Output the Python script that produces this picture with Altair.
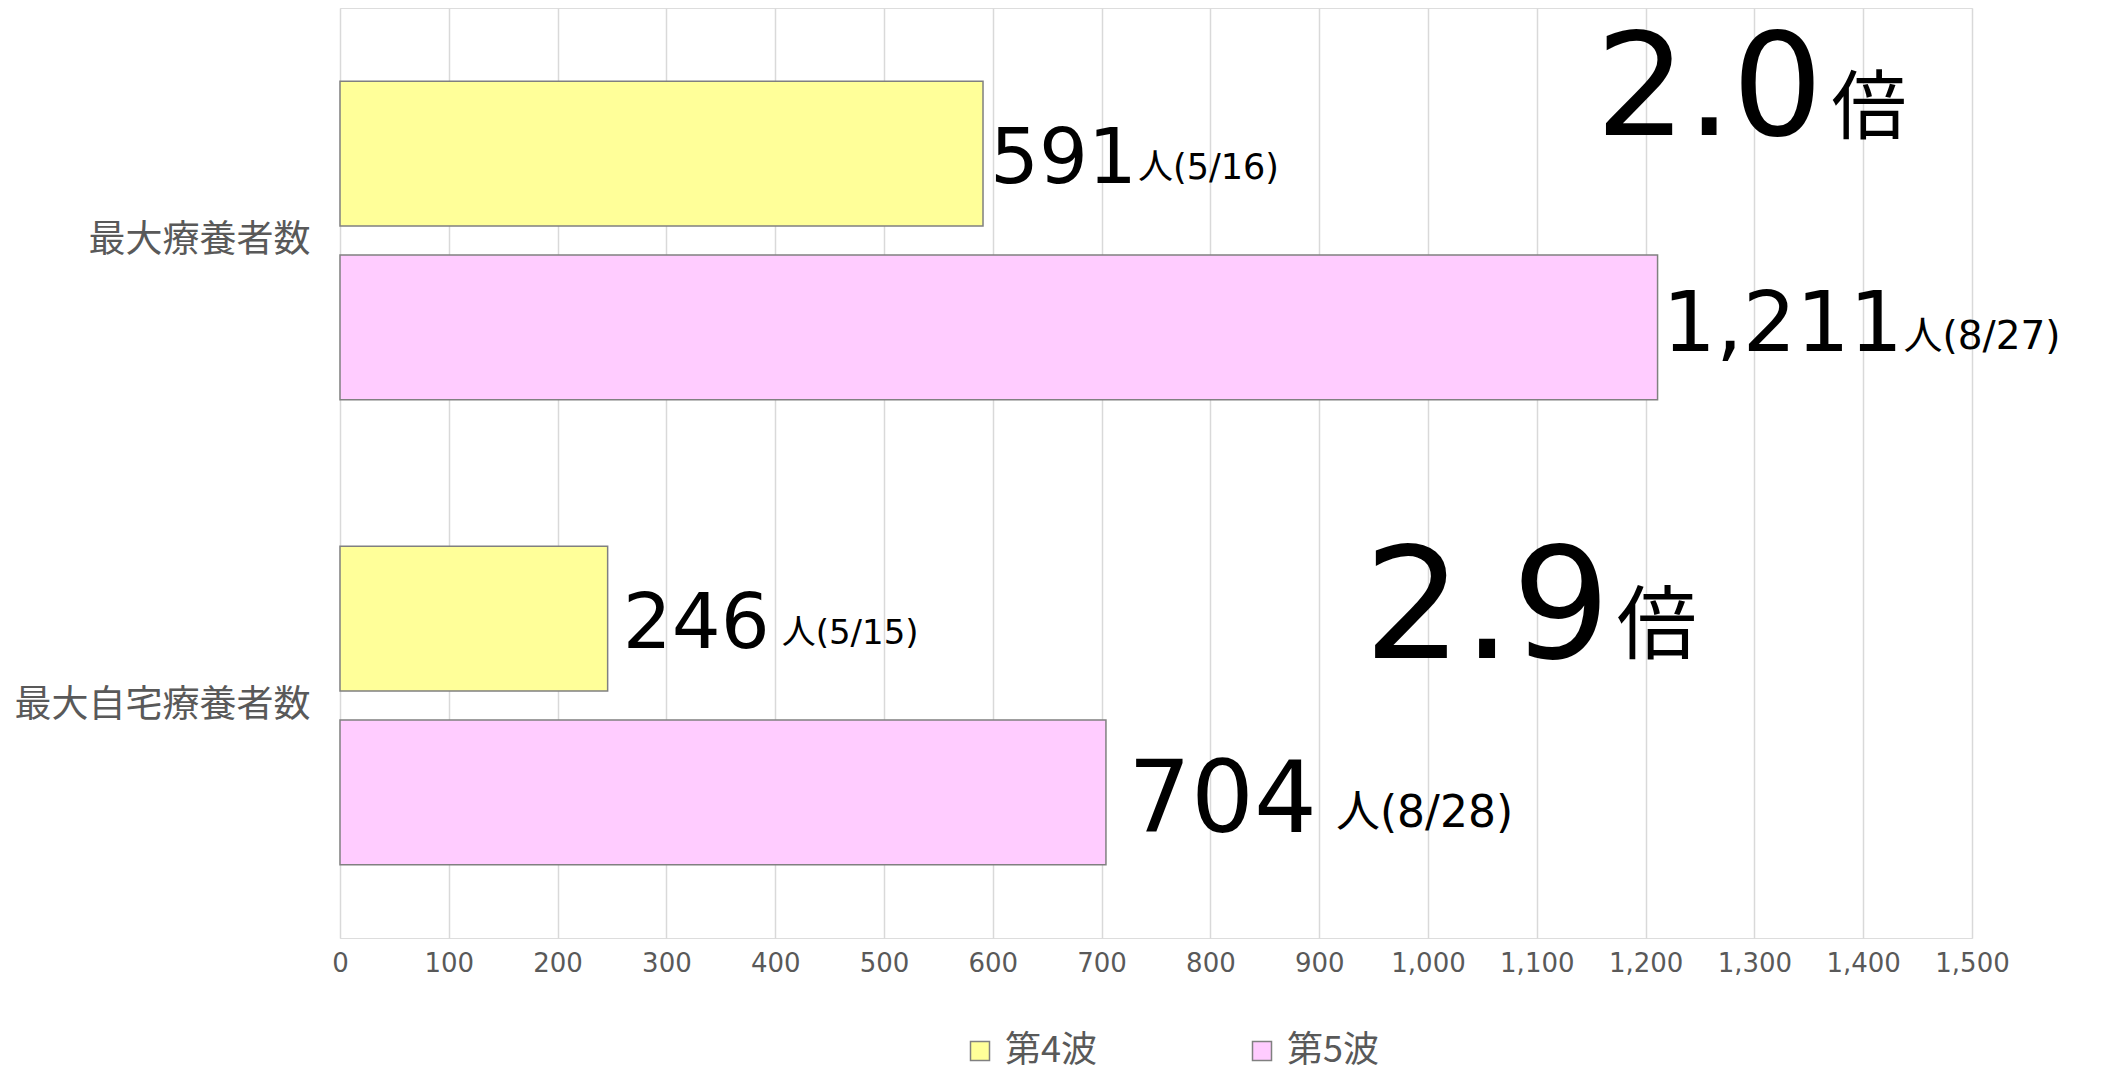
import altair as alt
import pandas as pd

# ---------------- data ----------------
categories = ["最大療養者数", "最大自宅療養者数"]
series = ["第4波", "第5波"]
wave4_values = [591, 246]
wave5_values = [1211, 704]
wave4_dates = ["5/16", "5/15"]
wave5_dates = ["8/27", "8/28"]
ratio_labels = ["2.0", "2.9"]
ratio_unit = "倍"
person_unit = "人"
x_ticks = list(range(0, 1501, 100))

# ---------------- styles (separate from data) ----------------
# per bar label: big-number size / offsets, unit-text size / offsets (pixels)
LABEL_STYLE = {
    ("最大療養者数", "第4波"): dict(bs=77, bdx=7, bdy=29.5, us=35, udx=155, udy=25),
    ("最大療養者数", "第5波"): dict(bs=84, bdx=5, bdy=23.5, us=39, udx=246, udy=22),
    ("最大自宅療養者数", "第4波"): dict(bs=77, bdx=15, bdy=29, us=34, udx=174, udy=25),
    ("最大自宅療養者数", "第5波"): dict(bs=99, bdx=22, bdy=39.5, us=44, udx=230, udy=35),
}
# ratio annotation anchor (x in data units) and text styles
RATIO_ANCHOR_X = [1154, 941]
RATIO_STYLE = [
    dict(rs=143, rdy=-105.5, ks=75, kdx=236, kdy=-107.5),
    dict(rs=155, rdy=-47.5, ks=80, kdx=253, kdy=-53.5),
]

rows = []
for i, cat in enumerate(categories):
    for s, vals, dates in [(series[0], wave4_values, wave4_dates),
                           (series[1], wave5_values, wave5_dates)]:
        v = vals[i]
        row = dict(category=cat, series=s, value=v,
                   label=f"{v:,}", unit=f"{person_unit}({dates[i]})")
        row.update(LABEL_STYLE[(cat, s)])
        rows.append(row)
df = pd.DataFrame(rows)

ratio_rows = []
for i, cat in enumerate(categories):
    r = dict(category=cat, ratio=ratio_labels[i], unit=ratio_unit, value=RATIO_ANCHOR_X[i])
    r.update(RATIO_STYLE[i])
    ratio_rows.append(r)
df_ratio = pd.DataFrame(ratio_rows)

GRAY = "#595959"
JP = "Noto Sans CJK JP"

x_enc = alt.X(
    "value:Q",
    scale=alt.Scale(domain=[0, 1500], nice=False, zero=True),
    axis=alt.Axis(values=x_ticks, format=",.0f", title=None, grid=True,
                  gridColor="#D9D9D9", gridWidth=1.5, domain=False, ticks=False,
                  labelFontSize=26, labelColor=GRAY, labelFont="DejaVu Sans",
                  labelPadding=12, labelOverlap=False, labelFlush=False),
)
y_enc = alt.Y(
    "category:N", sort=categories,
    scale=alt.Scale(domain=categories, paddingInner=0, paddingOuter=0),
    axis=alt.Axis(title=None, domain=False, ticks=False, grid=False,
                  labelFontSize=37, labelFont=JP, labelColor=GRAY,
                  labelPadding=30, labelLimit=500),
)
yoff_enc = alt.YOffset(
    "series:N", sort=series,
    scale=alt.Scale(domain=series, paddingInner=0.1667, paddingOuter=0.421),
)

bars = alt.Chart(df).mark_bar(stroke="#808080", strokeWidth=1.5).encode(
    x=x_enc,
    y=y_enc,
    yOffset=yoff_enc,
    color=alt.Color(
        "series:N", sort=series,
        scale=alt.Scale(domain=series, range=["#FFFF99", "#FFCCFF"]),
        legend=alt.Legend(
            title=None, orient="none", direction="horizontal",
            legendX=622, legendY=1025, padding=0,
            symbolType="square", symbolSize=361, symbolStrokeColor="#808080",
            symbolStrokeWidth=1.5, symbolOpacity=1,
            labelFontSize=36, labelFont=JP, labelColor=GRAY,
            labelOffset=7, columnPadding=147, labelLimit=300,
        ),
    ),
)

big = alt.Chart(df).mark_text(
    align="left", baseline="alphabetic", font="DejaVu Sans", color="black",
    dx=alt.ExprRef(expr="datum.bdx"), dy=alt.ExprRef(expr="datum.bdy"),
).encode(
    x=x_enc, y=y_enc, yOffset=yoff_enc,
    text="label:N", size=alt.Size("bs:Q", scale=None, legend=None),
)

small = alt.Chart(df).mark_text(
    align="left", baseline="alphabetic", font=f"DejaVu Sans, {JP}", color="black",
    dx=alt.ExprRef(expr="datum.udx"), dy=alt.ExprRef(expr="datum.udy"),
).encode(
    x=x_enc, y=y_enc, yOffset=yoff_enc,
    text="unit:N", size=alt.Size("us:Q", scale=None, legend=None),
)

ratio_txt = alt.Chart(df_ratio).mark_text(
    align="left", baseline="alphabetic", font="DejaVu Sans", color="black",
    dy=alt.ExprRef(expr="datum.rdy"),
).encode(
    x=x_enc, y=y_enc,
    text="ratio:N", size=alt.Size("rs:Q", scale=None, legend=None),
)

ratio_unit_txt = alt.Chart(df_ratio).mark_text(
    align="left", baseline="alphabetic", font=JP, color="black",
    dx=alt.ExprRef(expr="datum.kdx"), dy=alt.ExprRef(expr="datum.kdy"),
).encode(
    x=x_enc, y=y_enc,
    text="unit:N", size=alt.Size("ks:Q", scale=None, legend=None),
)

chart = alt.layer(bars, big, small, ratio_txt, ratio_unit_txt).properties(
    width=1632, height=930,
    autosize=alt.AutoSizeParams(type="none"),
    padding={"left": 332, "top": 0, "right": 122, "bottom": 134},
).configure_view(stroke=None).configure(background="white")

chart.save("out.html", embed_options={"renderer": "svg", "actions": False})
